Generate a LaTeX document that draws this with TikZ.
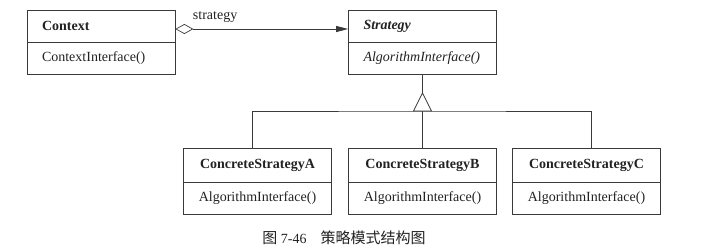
\documentclass[tikz,border=0pt]{standalone}
\usepackage{fontspec}
\setmainfont{Liberation Serif}
\newfontfamily\cjk{Noto Sans CJK SC}
\usetikzlibrary{arrows.meta,calc}
\definecolor{ink}{HTML}{222222}
\definecolor{edge}{HTML}{3A3A3A}
\tikzset{clsname/.style={draw=edge,line width=.7pt,minimum width=148pt,minimum height=32pt,inner xsep=15pt,
  text width=118pt,font=\fontsize{14}{16}\selectfont\bfseries,text=ink},
clsop/.style={draw=edge,line width=.7pt,minimum width=148pt,minimum height=32pt,inner xsep=15pt,
  text width=118pt,font=\fontsize{14}{16}\selectfont,text=ink},
link/.style={draw=edge,line width=.7pt},
lab/.style={font=\fontsize{14}{16}\selectfont,text=ink}}

\begin{document}
\begin{tikzpicture}[x=1pt,y=-1pt]
\useasboundingbox (0,0) rectangle (712,249);
\node[clsname,align=left] (ctx) at (101,26) {Context};
\node[clsop,align=left] (ctxop) at (101,58) {ContextInterface()};
\node[clsname,align=left] (strat) at (422.5,26) {\textit{Strategy}};
\node[clsop,align=left] (stratop) at (422.5,58) {\textit{AlgorithmInterface()}};
\node[clsname,align=center,minimum height=34pt] (csA) at (257.5,165) {ConcreteStrategyA};
\node[clsop,align=center] (csAop) at (257.5,198) {AlgorithmInterface()};
\node[clsname,align=center,minimum height=34pt] (csB) at (422.5,165) {ConcreteStrategyB};
\node[clsop,align=center] (csBop) at (422.5,198) {AlgorithmInterface()};
\node[clsname,align=center,minimum height=34pt] (csC) at (586.5,165) {ConcreteStrategyC};
\node[clsop,align=center] (csCop) at (586.5,198) {AlgorithmInterface()};
% aggregation
\draw[link,{Diamond[open,length=18pt,width=10pt]}-{Triangle[length=12pt,width=6pt]}]
  ([yshift=-3pt]ctx.east) -- node[lab,pos=.1,anchor=south west,inner xsep=0pt,inner ysep=6pt] {strategy} ([yshift=-3pt]strat.west);
% inheritance
\coordinate (apex) at (422.5,93);
\coordinate (bar) at (422.5,111);
\draw[link] (stratop.south) -- (apex);
\draw[link] ([xshift=-5.5pt]csA.north) |- (bar) -| ([xshift=4.5pt]csC.north);
\draw[link] (bar) -- (csB.north);
\draw[link,fill=white] (apex) -- ($(bar)+(-9,0)$) -- ($(bar)+(9,0)$) -- cycle;
\node[font=\fontsize{14}{16}\selectfont,text=ink] (cap) at (344,238) {{\cjk\fontsize{15}{16}\selectfont 图} 7-46\quad{\cjk\fontsize{15}{16}\selectfont 策略模式结构图}};
\end{tikzpicture}
\end{document}
